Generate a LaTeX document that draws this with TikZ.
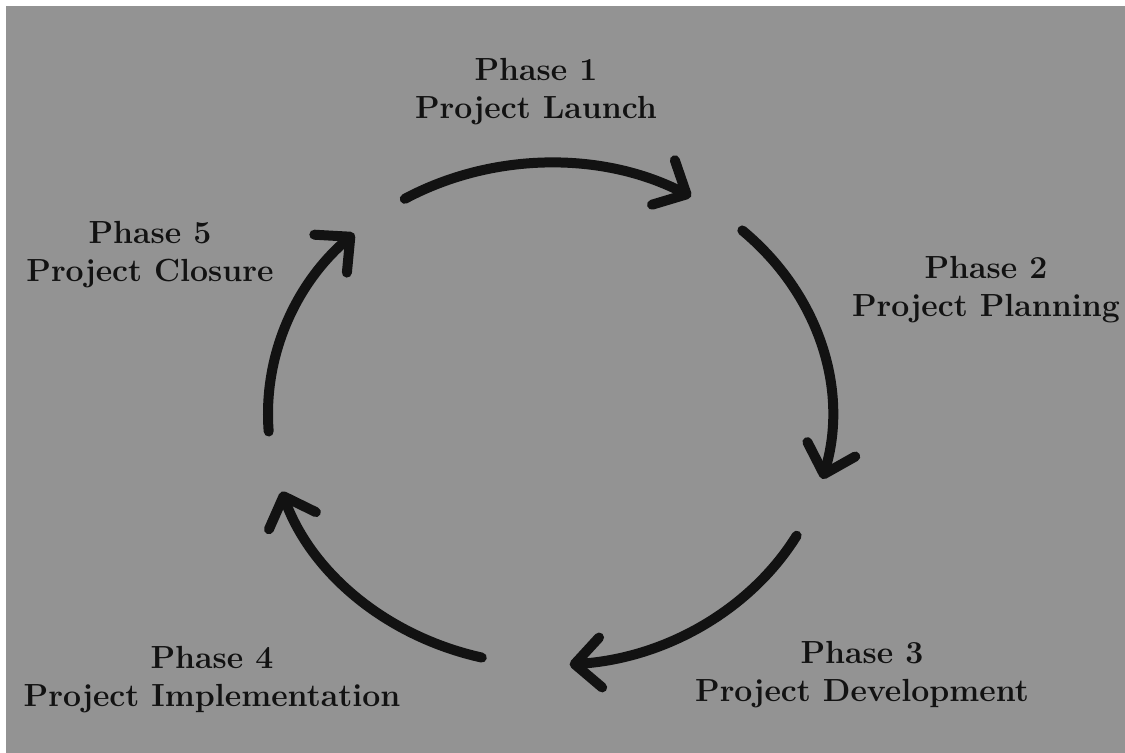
\documentclass[tikz,border=0pt]{standalone}
\usetikzlibrary{arrows.meta, calc, positioning}
\definecolor{bggray}{RGB}{147,147,147}
\definecolor{inkblack}{RGB}{18,18,18}
\tikzset{
    phase/.style={align=center, anchor=north, inner sep=0pt, text=inkblack,
        font=\fontsize{16}{19}\selectfont\bfseries},
    cyclearrow/.style={line width=5pt, line cap=round, inkblack,
        -{Straight Barb[round, length=13pt, width=25pt]}},
    ring/.style={x radius=141pt, y radius=125.5pt}
}

\begin{document}
\begin{tikzpicture}[x=0.5pt, y=-0.5pt]
    \useasboundingbox (0,0) rectangle (1125,752);
    \fill[white] (0,0) rectangle (1125,752);
    \fill[bggray] (6,6) rectangle (1135,762);

    \coordinate (ctr) at (550,414);

    % the five arcs of the cycle
    \draw[cyclearrow] ($(ctr)+(121:141pt and 125.5pt)$) arc[ring, start angle=121, end angle=60];
    \draw[cyclearrow] ($(ctr)+(47:141pt and 125.5pt)$) arc[ring, start angle=47, end angle=-15];
    \draw[cyclearrow] ($(ctr)+(-29:141pt and 125.5pt)$) arc[ring, start angle=-29, end angle=-86];
    \draw[cyclearrow] ($(ctr)+(-104:141pt and 125.5pt)$) arc[ring, start angle=-104, end angle=-162];
    \draw[cyclearrow] ($(ctr)+(184:141pt and 125.5pt)$) arc[ring, start angle=184, end angle=134];

    % phase labels
    \node[phase] (launch) at (536,58) {Phase 1\\Project Launch};
    \node[phase] (planning) at (986,256) {Phase 2\\Project Planning};
    \node[phase] (development) at (862,641) {Phase 3\\Project Development};
    \node[phase] (implementation) at (212,646) {Phase 4\\Project Implementation};
    \node[phase] (closure) at (150,221) {Phase 5\\Project Closure};
\end{tikzpicture}
\end{document}
